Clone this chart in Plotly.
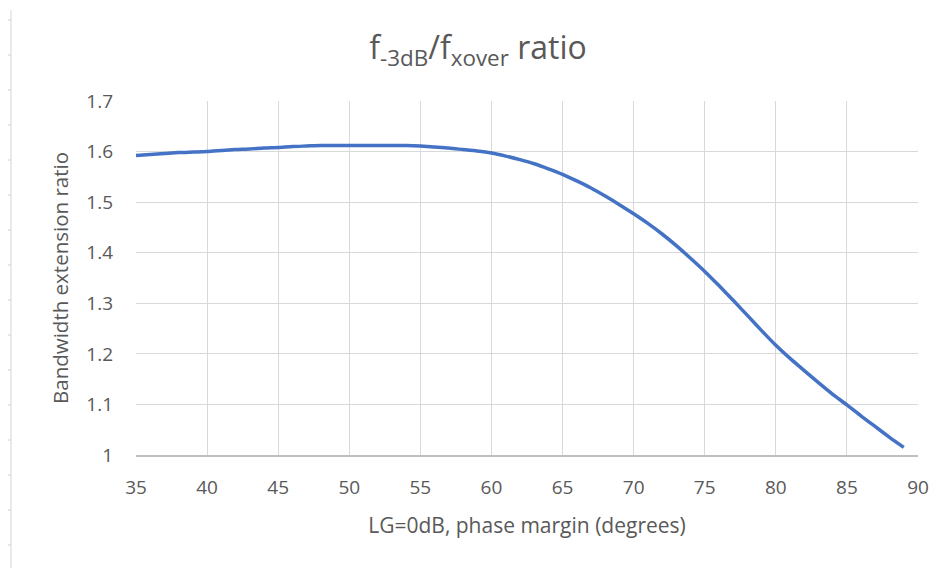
import plotly.graph_objects as go

phase_margin = list(range(35, 90))
bw_ratio = [1.592, 1.594, 1.596, 1.598, 1.599, 1.600, 1.602, 1.604, 1.605, 1.607,
            1.608, 1.610, 1.611, 1.612, 1.612, 1.612, 1.612, 1.612, 1.612, 1.612,
            1.611, 1.609, 1.607, 1.604, 1.601, 1.597, 1.591, 1.584, 1.576, 1.566,
            1.555, 1.542, 1.528, 1.512, 1.495, 1.477, 1.458, 1.437, 1.414, 1.389,
            1.363, 1.335, 1.306, 1.276, 1.246, 1.217, 1.191, 1.167, 1.143, 1.120,
            1.099, 1.077, 1.056, 1.035, 1.015]
x_ticks = list(range(35, 91, 5))
y_ticks = [1, 1.1, 1.2, 1.3, 1.4, 1.5, 1.6, 1.7]
y_labels = ["1", "1.1", "1.2", "1.3", "1.4", "1.5", "1.6", "1.7"]

W, H = 944, 568
OFF = 8  # page body margin
# target plot area in window pixels: left 136, right 918, top 101, bottom 455
L, T = 136 - OFF, 101 - OFF
R = W - (918 - OFF)
B = H - (455 - OFF)
pw, ph = W - L - R, H - T - B

def px2paper_x(px):
    return (px - OFF - L) / pw

def py2paper_y(py):
    return 1 - (py - OFF - T) / ph

font = "Open Sans, Liberation Sans, sans-serif"
grey = "#595959"

fig = go.Figure()
fig.add_trace(go.Scatter(x=phase_margin, y=bw_ratio, mode="lines",
                         line=dict(color="#4472C4", width=3.5, shape="spline", smoothing=0.6),
                         showlegend=False))

shapes = [dict(type="line", xref="paper", yref="paper",
               x0=px2paper_x(11), x1=px2paper_x(11),
               y0=py2paper_y(10), y1=py2paper_y(580),
               line=dict(color="#e3e3e3", width=1.5))]
for ty in range(20, 568, 35):
    shapes.append(dict(type="line", xref="paper", yref="paper",
                       x0=px2paper_x(8), x1=px2paper_x(11),
                       y0=py2paper_y(ty), y1=py2paper_y(ty),
                       line=dict(color="#d0d0d0", width=1)))

fig.update_layout(
    width=W, height=H,
    margin=dict(l=L, r=R, t=T, b=B, autoexpand=False),
    paper_bgcolor="white", plot_bgcolor="white",
    title=dict(text="f<sub>-3dB</sub>/f<sub>xover</sub> ratio",
               x=(478 - OFF) / W, xanchor="center", y=1 - (48 - OFF) / H, yanchor="middle",
               font=dict(family=font, size=32, color=grey)),
    xaxis=dict(range=[35, 90], tickvals=x_ticks, showgrid=True, automargin=False,
               gridcolor="#d9d9d9", gridwidth=1.3, zeroline=False,
               showline=True, linecolor="#bfbfbf", linewidth=1.5,
               ticks="", ticklabelstandoff=14,
               tickfont=dict(family=font, size=19, color=grey),
               title=dict(text="LG=0dB, phase margin (degrees)", standoff=20,
                          font=dict(family=font, size=21, color=grey))),
    yaxis=dict(range=[1, 1.7], tickvals=y_ticks, ticktext=y_labels, automargin=False,
               showgrid=True, gridcolor="#d9d9d9", gridwidth=1.3,
               zeroline=False, showline=False, ticks="", ticklabelstandoff=22,
               tickfont=dict(family=font, size=19, color=grey),
               title=dict(text="Bandwidth extension ratio", standoff=12,
                          font=dict(family=font, size=20.5, color=grey))),
    shapes=shapes,
)
fig.write_html("out.html")
